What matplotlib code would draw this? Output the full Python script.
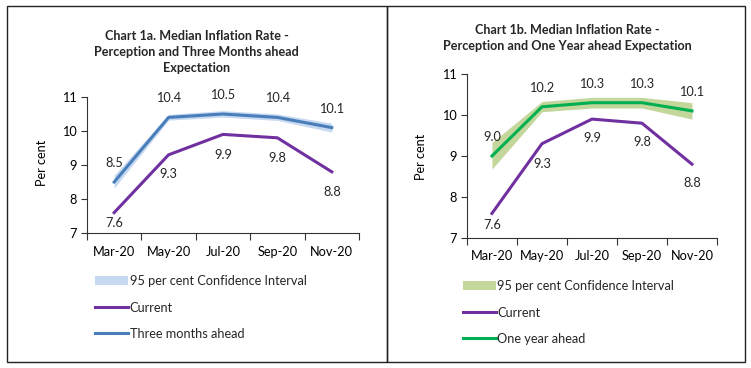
import numpy as np
import matplotlib
matplotlib.use("Agg")
import matplotlib.pyplot as plt
from matplotlib.patches import Rectangle

plt.rcParams['font.family'] = ['Lato', 'DejaVu Sans']
plt.rcParams['text.color'] = '#262626'

months = ["Mar-20", "May-20", "Jul-20", "Sep-20", "Nov-20"]
current = [7.6, 9.3, 9.9, 9.8, 8.8]
three_m = [8.5, 10.4, 10.5, 10.4, 10.1]
three_lo = [8.32, 10.32, 10.41, 10.31, 9.97]
three_hi = [8.7, 10.49, 10.6, 10.5, 10.23]
one_y = [9.0, 10.2, 10.3, 10.3, 10.1]
one_lo = [8.68, 10.08, 10.17, 10.17, 9.9]
one_hi = [9.33, 10.33, 10.43, 10.43, 10.3]

# label offsets in pixels (above for expectation, below for current)
up_off = [19, 19, 19, 19, 19]
cur_off_a = [-10, -19, -21, -20, -20]
cur_off_b = [-12, -20, -19, -19, -19]

fs = 9.2

fig = plt.figure(figsize=(7.51, 3.68), dpi=100)

# boxes round the two panels
fig.patches.append(Rectangle((0.0093, 0.0163), 0.5153 - 0.0093, 0.9837 - 0.0163,
                             transform=fig.transFigure, fill=False, lw=1, ec='#222222'))
fig.patches.append(Rectangle((0.5153, 0.0163), 0.992 - 0.5153, 0.9837 - 0.0163,
                             transform=fig.transFigure, fill=False, lw=1, ec='#222222'))

ax1 = fig.add_axes([0.1158, 0.3668, 0.478 - 0.1158, 0.7364 - 0.3668])
ax2 = fig.add_axes([0.6218, 0.3533, 0.9547 - 0.6218, 0.7989 - 0.3533])

x = np.arange(len(months))


def draw(ax, exp, lo, hi, col, band, lab, coff):
    ax.fill_between(x, lo, hi, color=band, lw=0, label="95 per cent Confidence Interval")
    ax.plot(x, current, color='#7030A0', lw=2.2, label="Current")
    ax.plot(x, exp, color=col, lw=2.2, label=lab)
    for i in range(len(x)):
        ax.annotate("%.1f" % exp[i], (x[i], exp[i]), xytext=(0, up_off[i]),
                    textcoords='offset pixels', ha='center', va='center', fontsize=fs)
        ax.annotate("%.1f" % current[i], (x[i], current[i]), xytext=(0, coff[i]),
                    textcoords='offset pixels', ha='center', va='center', fontsize=fs)
    ax.set_xlim(-0.5, 4.5)
    ax.set_ylim(7, 11)
    ax.set_yticks([7, 8, 9, 10, 11])
    ax.set_xticks(np.arange(-0.5, 5, 1))
    ax.set_xticklabels([])
    ax.set_xticks(x, minor=True)
    ax.set_xticklabels(months, minor=True)
    ax.tick_params(axis='x', which='minor', length=0, pad=9, labelsize=fs)
    ax.tick_params(axis='x', which='major', length=5, color='#333333')
    ax.tick_params(axis='y', length=4, labelsize=fs, color='#333333')
    for s in ['top', 'right']:
        ax.spines[s].set_visible(False)
    for s in ['left', 'bottom']:
        ax.spines[s].set_color('#333333')
    ax.set_ylabel("Per cent", fontsize=fs)


draw(ax1, three_m, three_lo, three_hi, '#4A7EBB', '#C5D9F1', "Three months ahead", cur_off_a)
draw(ax2, one_y, one_lo, one_hi, '#00B050', '#C3D69B', "One year ahead", cur_off_b)

ax1.yaxis.set_label_coords(-0.143, 0.515)
ax2.yaxis.set_label_coords(-0.16, 0.494)

fig.text(0.262, 0.859, "Chart 1a. Median Inflation Rate -\nPerception and Three Months ahead\nExpectation",
         ha='center', va='center', fontsize=9.1, fontweight='bold', linespacing=1.42)
fig.text(0.755, 0.8967, "Chart 1b. Median Inflation Rate -\nPerception and One Year ahead Expectation",
         ha='center', va='center', fontsize=9.1, fontweight='bold', linespacing=1.42)

for ax, pos in [(ax1, (0.1265, 0.252)), (ax2, (0.6165, 0.2384))]:
    ax.legend(loc='upper left', bbox_to_anchor=pos, bbox_transform=fig.transFigure,
              frameon=False, fontsize=fs, borderpad=0, borderaxespad=0,
              handlelength=2.6, handletextpad=0.1, labelspacing=1.12)

fig.savefig("out.png", dpi=100)
